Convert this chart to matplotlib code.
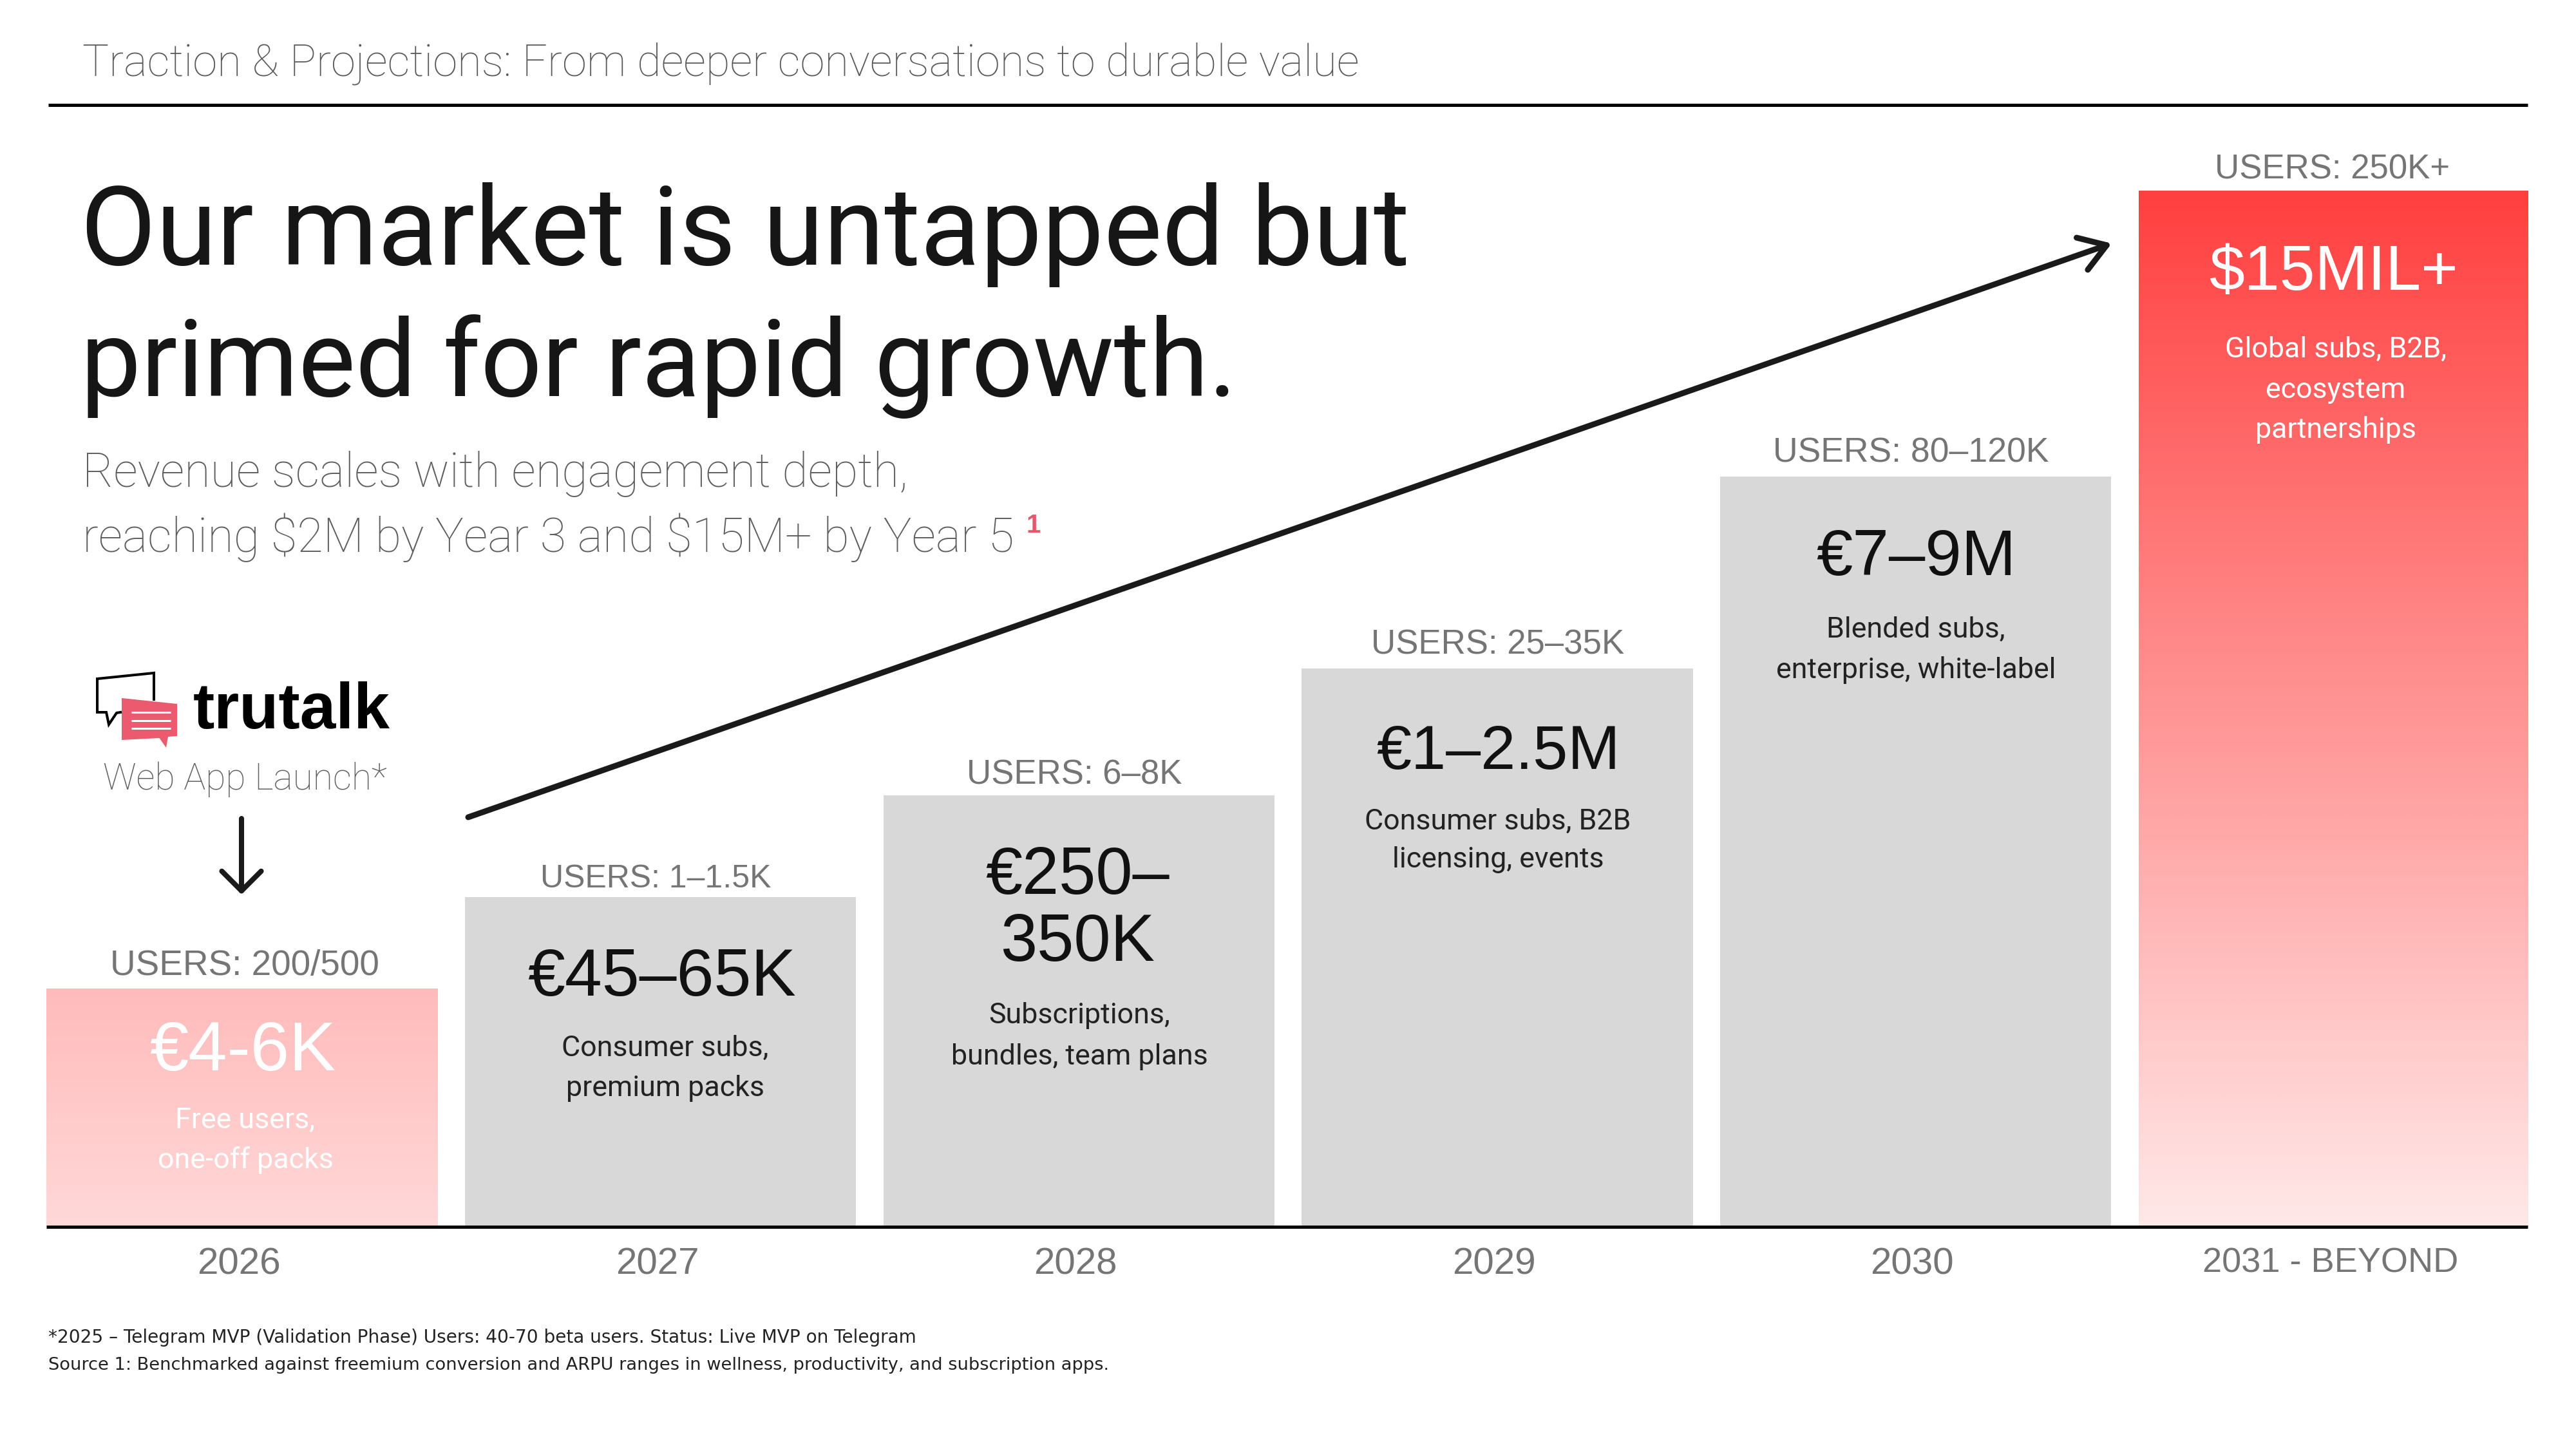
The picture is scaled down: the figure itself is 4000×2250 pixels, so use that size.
import matplotlib
matplotlib.use("Agg")
import matplotlib.pyplot as plt
import numpy as np
from matplotlib.colors import LinearSegmentedColormap
from matplotlib.patches import Polygon

plt.rcParams['font.family'] = ['Liberation Sans', 'DejaVu Sans']
TIGHT = ['Roboto', 'Liberation Sans']

# Chart data
years = ['2026', '2027', '2028', '2029', '2030', '2031 - BEYOND']
bar_heights = [370, 512, 670, 867, 1165, 1609]
users = ['USERS: 200/500', 'USERS: 1–1.5K', 'USERS: 6–8K', 'USERS: 25–35K', 'USERS: 80–120K', 'USERS: 250K+']
revenue = ['€4-6K', '€45–65K', '€250–\n350K', '€1–2.5M', '€7–9M', '$15MIL+']
streams = ['Free users,\none-off packs', 'Consumer subs,\npremium packs', 'Subscriptions,\nbundles, team plans',
           'Consumer subs, B2B\nlicensing, events', 'Blended subs,\nenterprise, white-label',
           'Global subs, B2B,\necosystem\npartnerships']

# Layout in pixels of the 4000x2250 canvas
W, H = 4000, 2250
BASE_Y = 1905
users_x = [380, 1018, 1668, 2326, 2967, 3622]
users_y = [1514, 1378, 1217, 1016, 717, 278]
users_size = [39.5, 36, 38, 38, 38.5, 38]
revenue_x = [377, 1028, 1673, 2326, 2975, 3624]
revenue_y = [[1662], [1546], [1388, 1492], [1194], [893], [450]]
revenue_size = [78, 75, 74, 70, 73, 71]
streams_x = [381, 1033, 1676, 2326, 2975, 3627]
streams_y = [[1752, 1814], [1640, 1702], [1589, 1653], [1288, 1347], [990, 1053], [555, 618, 680]]
revenue_colors = ['white', '#111111', '#111111', '#111111', '#111111', 'white']
streams_colors = ['white', '#222222', '#222222', '#222222', '#222222', 'white']
gradients = {0: ('#FFBBBB', '#FFD8D8'), 5: ('#FF4040', '#FFE8E8')}

fig = plt.figure(figsize=(W / 100, H / 100), dpi=100, facecolor='white')

# Bars and year axis
ax = fig.add_axes([72 / W, 1 - BASE_Y / H, (3925 - 72) / W, BASE_Y / H])
x = np.arange(len(years))
bars = ax.bar(x, bar_heights, width=0.935, color='#D8D8D8', linewidth=0)
for idx, (top, bottom) in gradients.items():
    bar = bars[idx]
    bar.set_facecolor('none')
    cmap = LinearSegmentedColormap.from_list(f'bar{idx}', [top, bottom])
    ax.imshow(np.linspace(0, 1, 256).reshape(-1, 1), cmap=cmap, aspect='auto', interpolation='bilinear',
              extent=(bar.get_x(), bar.get_x() + bar.get_width(), 0, bar.get_height()), zorder=2)
ax.set_xlim(-0.468, 5.463)
ax.set_ylim(0, BASE_Y)
ax.patch.set_visible(False)
for side in ['top', 'left', 'right']:
    ax.spines[side].set_visible(False)
ax.spines['bottom'].set_linewidth(3.6)
ax.spines['bottom'].set_color('black')
ax.spines['bottom'].set_capstyle('butt')
ax.set_yticks([])
ax.set_xticks(x - 0.008)
ax.set_xticklabels(years, fontsize=42, color='#757575')
ax.get_xticklabels()[-1].set_fontsize(39)
ax.tick_params(axis='x', length=0, pad=23)

# Canvas overlay for text, rules and the logo
ov = fig.add_axes([0, 0, 1, 1])
ov.set_xlim(0, W)
ov.set_ylim(H, 0)
ov.axis('off')

ov.plot([75, 3925], [163, 163], color='black', lw=3.6, solid_capstyle='butt')
ov.text(128, 118, 'Traction & Projections: From deeper conversations to durable value',
        fontsize=49.5, color='#5A5A5A', family=TIGHT, fontweight='light', va='baseline')
ov.text(125, 411, 'Our market is untapped but', fontsize=123, color='#161616', family=TIGHT, va='baseline')
ov.text(125, 615, 'primed for rapid growth.', fontsize=120.5, color='#161616', family=TIGHT, va='baseline')
ov.text(128, 755, 'Revenue scales with engagement depth,', fontsize=53.2, color='#5E5E5E',
        family=TIGHT, fontweight='light', va='baseline', parse_math=False)
ov.text(128, 857, 'reaching $2M by Year 3 and $15M+ by Year 5', fontsize=53.2, color='#5E5E5E',
        family=TIGHT, fontweight='light', va='baseline', parse_math=False)
ov.text(1593, 827, '1', fontsize=29, color='#E8566C', fontweight='bold', va='baseline')

# Logo
ov.plot([239, 239, 151, 151, 165, 169, 181, 187], [1086, 1045, 1054, 1106, 1106, 1125, 1107, 1106],
        color='black', lw=2.9, solid_joinstyle='miter')
ov.add_patch(Polygon([(189, 1084), (275, 1093), (275, 1143), (261, 1144), (258, 1161), (247.5, 1146), (189, 1149)],
                     closed=True, facecolor='#EB5A6E', edgecolor='none'))
for ly in [1106, 1119, 1131]:
    ov.plot([204, 265], [ly, ly], color='white', lw=2.2, solid_capstyle='butt')
ov.text(300, 1131, 'trutalk', fontsize=72, fontweight='bold', color='black', va='baseline')
ov.text(380, 1226, 'Web App Launch*', fontsize=41, color='#606060', family=TIGHT, fontweight='light',
        ha='center', va='baseline')

# Arrows
ov.annotate('', xy=(375, 1389), xytext=(375, 1271),
            arrowprops=dict(arrowstyle='->,head_length=22,head_width=22', mutation_scale=1, lw=5.8,
                            color='#1A1A1A', shrinkA=0, shrinkB=0, capstyle='round'))
ov.annotate('', xy=(3279, 378), xytext=(727, 1269),
            arrowprops=dict(arrowstyle='->,head_length=29,head_width=19', mutation_scale=1, lw=6.5,
                            color='#1A1A1A', shrinkA=0, shrinkB=0, capstyle='round'))

# Labels on and above the bars
for i in range(len(years)):
    ov.text(users_x[i], users_y[i], users[i], fontsize=users_size[i], color='#757575', ha='center', va='baseline')
    for line, ly in zip(revenue[i].split('\n'), revenue_y[i]):
        ov.text(revenue_x[i], ly, line, fontsize=revenue_size[i], color=revenue_colors[i], ha='center',
                va='baseline', parse_math=False)
    for line, ly in zip(streams[i].split('\n'), streams_y[i]):
        ov.text(streams_x[i], ly, line, fontsize=32.2, color=streams_colors[i], family=TIGHT,
                ha='center', va='baseline')

# Footnotes
ov.text(75, 2085, '*2025 – Telegram MVP (Validation Phase) Users: 40-70 beta users. Status: Live MVP on Telegram',
        fontsize=20.2, color='#222222', family='DejaVu Sans', va='baseline')
ov.text(75, 2127, 'Source 1: Benchmarked against freemium conversion and ARPU ranges in wellness, productivity, and subscription apps.',
        fontsize=19.6, color='#222222', family='DejaVu Sans', va='baseline')

fig.savefig('out.png', dpi=100)
